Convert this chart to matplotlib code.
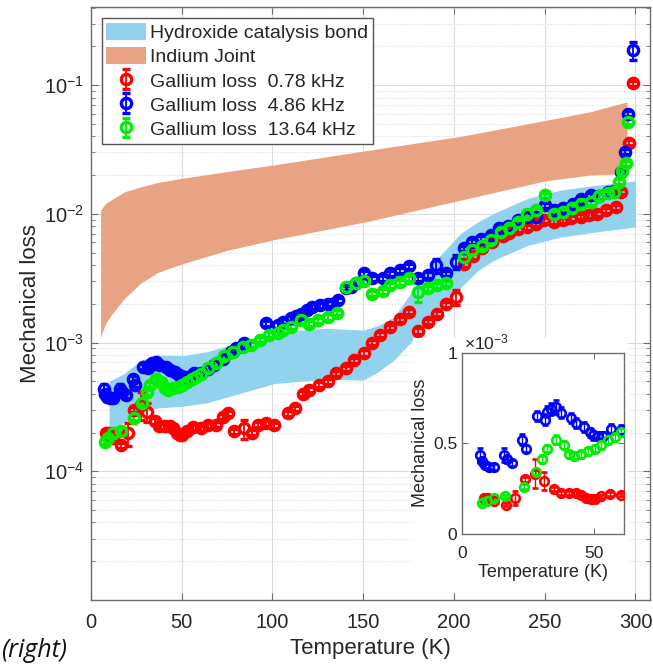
import numpy as np
import matplotlib
matplotlib.use("Agg")
import matplotlib.pyplot as plt
from matplotlib.patches import Rectangle
from matplotlib.ticker import LogLocator, NullFormatter, FixedLocator, FixedFormatter

plt.rcParams['font.family'] = ['Liberation Sans', 'DejaVu Sans']
plt.rcParams['mathtext.fontset'] = 'custom'
plt.rcParams['mathtext.rm'] = 'Liberation Sans'
plt.rcParams['mathtext.it'] = 'Liberation Sans:italic'
plt.rcParams['mathtext.bf'] = 'Liberation Sans:bold'

# ---------------- data ----------------
# Hydroxide catalysis bond band
hyd_T = [10, 18.4, 27.5, 36.7, 50.5, 64, 82.6, 101, 128.6, 150, 158, 167, 176, 185, 195, 204, 213, 222, 240.8, 259, 277.5, 300]
hyd_lo = [2.1e-4, 2.4e-4, 2.8e-4, 3.1e-4, 3.2e-4, 3.4e-4, 4.05e-4, 4.8e-4, 5.2e-4, 5.1e-4, 5.9e-4, 7.3e-4, 1.0e-3,
          1.33e-3, 1.9e-3, 2.7e-3, 3.6e-3, 4.36e-3, 5.7e-3, 6.6e-3, 7.2e-3, 7.9e-3]
hyd_hi = [5.0e-4, 5.75e-4, 7.3e-4, 8.0e-4, 7.9e-4, 8.5e-4, 1.01e-3, 1.21e-3, 1.29e-3, 1.25e-3, 1.35e-3, 1.58e-3, 2.4e-3,
          3.65e-3, 5.2e-3, 7.1e-3, 8.6e-3, 1.01e-2, 1.32e-2, 1.53e-2, 1.66e-2, 1.8e-2]

# Indium joint band
ind_T = [5.3, 8, 11, 18.4, 27.5, 36.7, 50.5, 75, 101, 152, 204, 250, 275, 295.3]
ind_lo = [1.1e-3, 1.4e-3, 1.63e-3, 2.2e-3, 2.9e-3, 3.5e-3, 4.1e-3, 5.2e-3, 6.3e-3, 8.7e-3, 1.28e-2, 1.8e-2, 2.0e-2, 2.05e-2]
ind_hi = [1.07e-2, 1.2e-2, 1.28e-2, 1.48e-2, 1.62e-2, 1.75e-2, 1.89e-2, 2.13e-2, 2.4e-2, 3.1e-2, 4.0e-2, 5.3e-2, 6.2e-2, 7.4e-2]

# Gallium loss 0.78 kHz (red)
red_T = [8.3, 9.8, 12.1, 16.6, 20.2, 23.9, 27.8, 31.0, 35.1, 37.6, 40.8, 43.4, 45.3, 47.2, 49.1, 50.4, 52.9, 56.1, 60.6,
         64.3, 68.9, 72.5, 75.3, 79, 84.5, 88.7, 91.8, 96.4, 100.6, 108.4, 112.4, 116.6, 120.3, 125.8, 130.4, 135, 140.5,
         145, 150.6, 155, 159, 165, 170, 175.4, 180.4, 185.5, 190.6, 195.6, 201, 205.6, 210.6, 215.7, 221, 226.8, 230.4,
         235, 240.5, 245, 249.7, 255, 259.8, 264.4, 269.9, 274.5, 279, 283.6, 289, 292, 296.6, 298.4]
red_y = [1.97e-4, 1.97e-4, 1.80e-4, 1.60e-4, 1.97e-4, 3.0e-4, 3.3e-4, 2.9e-4, 2.46e-4, 2.24e-4, 2.24e-4, 2.24e-4, 2.15e-4,
         1.97e-4, 1.9e-4, 1.9e-4, 2.06e-4, 2.19e-4, 2.15e-4,
         2.28e-4, 2.3e-4, 2.65e-4, 2.82e-4, 2.05e-4, 2.15e-4, 2.0e-4, 2.3e-4, 2.35e-4, 2.28e-4, 2.82e-4, 3.1e-4, 4.0e-4,
         4.3e-4, 4.7e-4, 5.0e-4, 5.75e-4, 6.3e-4, 7.3e-4, 8.3e-4, 1.0e-3, 1.15e-3, 1.32e-3, 1.52e-3, 1.74e-3, 1.23e-3,
         1.45e-3, 1.68e-3, 1.99e-3, 2.27e-3, 4.07e-3, 4.7e-3, 5.4e-3, 6.05e-3, 6.7e-3, 7.1e-3, 7.6e-3, 7.9e-3, 8.4e-3,
         8.9e-3, 8.7e-3, 8.9e-3, 9.2e-3, 9.5e-3, 9.8e-3, 1.0e-2, 1.07e-2, 1.13e-2, 1.48e-2, 3.57e-2, 1.03e-1]
red_big_T = [20.2, 27.8, 31.0, 84.5, 201]
red_big_err = [0.04e-3, 0.08e-3, 0.05e-3, 0.37e-4, 0.3e-3]

# Gallium loss 4.86 kHz (blue)
blue_T = [7.0, 7.7, 8.9, 10.2, 12.1, 15.9, 17.2, 19.1, 23.0, 24.2, 28.7, 31.5, 32.5, 33.8, 35.7, 37.6, 41.5, 43.4, 46.3,
          48.5, 49.7, 51.7, 53.6, 56.8, 60.6, 64.5, 68, 73, 77, 80, 84.5, 96.4, 102.8, 106, 110, 113, 115.7, 119, 122,
          126, 130.4, 133, 136, 140.5, 143, 146, 150.6, 155, 160.7, 165, 170, 175.4, 180.4, 185.5, 190, 195.6, 201,
          205.6, 210, 214.8, 220.2, 224.8, 229.5, 235, 240.5, 245, 250, 255.3, 259.8, 265.3, 269.9, 275.4, 280, 284.6,
          288.3, 292, 294.2, 296, 298.4]
blue_y = [4.36e-4, 4.0e-4, 3.8e-4, 3.7e-4, 3.7e-4, 4.35e-4, 4.1e-4, 3.9e-4, 5.2e-4, 4.7e-4, 6.5e-4, 6.3e-4, 6.75e-4,
          6.9e-4, 7.0e-4, 6.7e-4, 6.4e-4, 6.1e-4, 5.9e-4, 5.6e-4, 5.45e-4, 5.4e-4, 5.4e-4, 5.8e-4, 5.75e-4, 6.2e-4,
          6.7e-4, 7.5e-4, 8.4e-4, 9.0e-4, 1.0e-3, 1.41e-3, 1.37e-3, 1.45e-3, 1.55e-3, 1.6e-3, 1.68e-3, 1.78e-3, 1.9e-3,
          1.95e-3, 2.0e-3, 2.0e-3, 2.14e-3, 2.63e-3, 2.7e-3, 2.9e-3, 3.45e-3, 3.15e-3, 3.15e-3, 3.45e-3, 3.65e-3, 3.9e-3,
          3.15e-3, 3.35e-3, 3.97e-3, 3.45e-3, 4.25e-3, 5.4e-3, 6.05e-3, 6.4e-3, 6.8e-3, 7.7e-3, 8.0e-3, 8.9e-3, 9.5e-3,
          9.5e-3, 1.17e-2, 1.07e-2, 1.1e-2, 1.2e-2, 1.31e-2, 1.4e-2, 1.37e-2, 1.48e-2, 1.5e-2, 2.12e-2, 3.03e-2,
          6.0e-2, 1.87e-1]
blue_big_T = [7.0, 15.9, 23.0, 31.5, 35.7, 190, 201, 298.4]
blue_big_err = [0.04e-3, 0.04e-3, 0.03e-3, 0.03e-3, 0.04e-3, 0.5e-3, 0.5e-3, 0.03]

# Gallium loss 13.64 kHz (green)
green_T = [7.7, 9.6, 12.1, 16.3, 23.6, 28.1, 30.6, 32.5, 35.7, 38.6, 40.8, 42.7, 45.3, 47.8, 50.4, 52.9, 55.5, 58.0,
           60.6, 64.3, 68.9, 73.5, 78, 83.6, 88, 93, 98.3, 102.8, 106, 110, 115.7, 120.3, 125, 130.4, 135.5, 140.5,
           146, 150.6, 155, 160.7, 165, 170.5, 175.4, 180.4, 185.5, 190.8, 195.6, 205.6, 210, 215.7, 220.2, 225.7,
           230.4, 235, 240.5, 245, 250, 255.3, 259.8, 264.8, 269.9, 275.4, 280, 284.6, 288.3, 291, 292.5, 294.7, 296]
green_y = [1.7e-4, 1.8e-4, 1.97e-4, 2.06e-4, 2.6e-4, 3.4e-4, 4.1e-4, 4.7e-4, 5.2e-4, 4.9e-4, 4.4e-4, 4.3e-4, 4.4e-4,
           4.55e-4, 4.7e-4, 4.9e-4, 5.2e-4, 5.37e-4, 5.65e-4, 6.3e-4, 6.9e-4, 7.8e-4, 8.5e-4, 9.3e-4, 9.6e-4, 1.05e-3,
           1.15e-3, 1.18e-3, 1.25e-3, 1.33e-3, 1.49e-3, 1.4e-3, 1.49e-3, 1.58e-3, 1.7e-3, 2.7e-3, 2.9e-3, 3.0e-3,
           2.4e-3, 2.5e-3, 2.8e-3, 2.95e-3, 3.15e-3, 2.48e-3, 2.65e-3, 2.8e-3, 2.9e-3, 4.65e-3, 5.2e-3, 5.6e-3, 6.3e-3,
           7.2e-3, 7.7e-3, 8.7e-3, 1.0e-2, 1.07e-2, 1.4e-2, 1.0e-2, 1.03e-2, 1.1e-2, 1.2e-2, 1.23e-2, 1.37e-2, 1.44e-2,
           1.48e-2, 1.78e-2, 2.15e-2, 2.46e-2, 5.2e-2]
green_big_T = [180.4]
green_big_err = [0.4e-3]

rel_err = 0.045  # typical relative error bar size

x_ticks = [0, 50, 100, 150, 200, 250, 300]
y_ticks = [1e-4, 1e-3, 1e-2, 1e-1]
inset_x_ticks = [0, 50]
inset_y_ticks = [0, 0.5, 1]
inset_y_labels = ['0', '0.5', '1']

labels = ['Hydroxide catalysis bond', 'Indium Joint',
          'Gallium loss  0.78 kHz', 'Gallium loss  4.86 kHz', 'Gallium loss  13.64 kHz']


def make_err(T, y, bigT, bigE):
    e = [rel_err * v for v in y]
    for t, be in zip(bigT, bigE):
        e[T.index(t)] = be
    return e


series = [
    (red_T, red_y, make_err(red_T, red_y, red_big_T, red_big_err), '#ff0000'),
    (blue_T, blue_y, make_err(blue_T, blue_y, blue_big_T, blue_big_err), '#0000ff'),
    (green_T, green_y, make_err(green_T, green_y, green_big_T, green_big_err), '#00ee00'),
]

W, H = 653, 665
fig = plt.figure(figsize=(W / 100, H / 100), dpi=100)

text_col = '#262626'
spine_col = '#6e6e6e'

ax = fig.add_axes([91 / W, 1 - 600 / H, (650 - 91) / W, (600 - 7) / H])
ax.set_yscale('log')
ax.set_xlim(0, 308)
ax.set_ylim(1e-5, 0.404)

c_hyd = '#91d2ef'
c_ind = '#e8a384'
ax.fill_between(ind_T, ind_lo, ind_hi, color=c_ind, lw=0, label=labels[1], zorder=2)
ax.fill_between(hyd_T, hyd_lo, hyd_hi, color=c_hyd, lw=0, label=labels[0], zorder=2.1)

for (T, y, e, c), lab in zip(series, labels[2:]):
    ax.errorbar(T, y, yerr=e, fmt='o', color=c, mfc='none', ms=7.4, mew=2.4,
                elinewidth=1.3, capsize=3.2, capthick=1.3, label=lab, zorder=3)

ax.set_xticks(x_ticks)
ax.yaxis.set_major_locator(FixedLocator(y_ticks))
ax.yaxis.set_minor_locator(LogLocator(base=10, subs=np.arange(2, 10), numticks=50))
ax.yaxis.set_minor_formatter(NullFormatter())
ax.set_yticklabels([r'$10^{-4}$', r'$10^{-3}$', r'$10^{-2}$', r'$10^{-1}$'])
ax.tick_params(axis='both', which='both', direction='in', top=True, right=True,
               labelsize=14.5, colors=spine_col, labelcolor=text_col)
ax.tick_params(axis='both', which='major', length=5, width=0.8)
ax.tick_params(axis='y', which='minor', length=3, width=0.6)
ax.tick_params(axis='x', which='major', pad=9)
ax.tick_params(axis='y', which='major', pad=5)
ax.grid(True, which='major', axis='both', color='#dcdcdc', lw=0.8, ls='-', zorder=0)
ax.grid(True, which='minor', axis='y', color='#dcdcdc', lw=0.8, ls=':', zorder=0)
ax.set_axisbelow(True)
for s in ax.spines.values():
    s.set_color(spine_col)
    s.set_linewidth(1.0)

ax.set_xlabel('Temperature (K)', fontsize=16, color=text_col, labelpad=5)
ax.set_ylabel('Mechanical loss', fontsize=16, color=text_col, labelpad=2)

h_fill, l_fill = ax.get_legend_handles_labels()
hmap = dict(zip(l_fill, h_fill))
leg = ax.legend([hmap[l] for l in labels], labels, loc='upper left',
                bbox_to_anchor=(0.019, 0.9815), borderaxespad=0, fontsize=14,
                frameon=True, fancybox=False, framealpha=1, edgecolor='#555555',
                handlelength=2.05, handleheight=1.0, handletextpad=0.2,
                labelspacing=0.25, borderpad=0.25)
leg.get_frame().set_linewidth(1.0)
for t in leg.get_texts():
    t.set_color(text_col)

# white background behind inset
fig.patches.append(Rectangle((413 / W, 1 - 592 / H), 215 / W, 254 / H, transform=fig.transFigure,
                             facecolor='white', edgecolor='none', zorder=1))

axi = fig.add_axes([462 / W, 1 - 533.5 / H, 161.5 / W, 180.5 / H], zorder=2)
for (T, y, e, c) in series:
    axi.errorbar(T, [v * 1e3 for v in y], yerr=[v * 1e3 for v in e], fmt='o', color=c,
                 mfc='none', ms=6.2, mew=1.9, elinewidth=1.0, capsize=2.5, capthick=1.0, zorder=3)
axi.set_xlim(0, 61.4)
axi.set_ylim(0, 1)
axi.xaxis.set_major_locator(FixedLocator(inset_x_ticks))
axi.yaxis.set_major_locator(FixedLocator(inset_y_ticks))
axi.yaxis.set_major_formatter(FixedFormatter(inset_y_labels))
axi.tick_params(axis='both', which='both', direction='in', top=True, right=True,
                labelsize=12.5, colors=spine_col, labelcolor=text_col, length=4, width=0.7)
axi.tick_params(axis='x', pad=9)
for s in axi.spines.values():
    s.set_color(spine_col)
    s.set_linewidth(1.0)
axi.set_xlabel('Temperature (K)', fontsize=13, color=text_col, labelpad=2)
axi.set_ylabel('Mechanical loss', fontsize=13, color=text_col, labelpad=3)
axi.text(0.01, 1.005, r'$\times10^{-3}$', transform=axi.transAxes, fontsize=12.5,
         color=text_col, ha='left', va='bottom')

fig.text(0.002, 0.003, '(right)', fontsize=18, fontstyle='italic', color='#111111',
         family=['Open Sans', 'DejaVu Sans'], ha='left', va='bottom')

fig.savefig('out.png', dpi=100, facecolor='white')
